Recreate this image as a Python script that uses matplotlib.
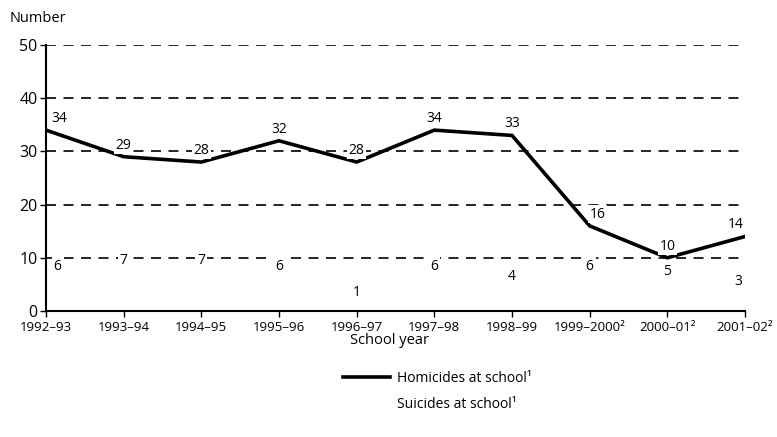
import matplotlib
matplotlib.use('Agg')
import matplotlib.pyplot as plt

plt.rcParams['font.family'] = ['Open Sans', 'DejaVu Sans']

years = ['1992\u201393', '1993\u201394', '1994\u201395', '1995\u201396', '1996\u201397',
         '1997\u201398', '1998\u201399', '1999\u20132000\u00b2', '2000\u201301\u00b2',
         '2001\u201302\u00b2']
homicides = [34, 29, 28, 32, 28, 34, 33, 16, 10, 14]
suicides = [6, 7, 7, 6, 1, 6, 4, 6, 5, 3]

fig = plt.figure(figsize=(7.77, 4.37), dpi=100)
ax = fig.add_axes([46 / 777, 1 - 311 / 437, 699 / 777, 266 / 437])

x = list(range(len(years)))

# dashed reference lines
for y in [10, 20, 30, 40, 50]:
    ax.axhline(y, color='black', lw=1.2, ls=(0, (6, 4.5)), zorder=1)

line_h, = ax.plot(x, homicides, color='black', lw=2.6, solid_joinstyle='miter',
                  zorder=3, label='Homicides at school\u00b9')
# suicides line did not survive in the source; keep it invisible
line_s, = ax.plot(x, suicides, ls='none', label='Suicides at school\u00b9')

for i, v in enumerate(homicides):
    dx = 0
    if i == 0:
        dx = 0.17
    elif i == len(homicides) - 1:
        dx = -0.12
    elif i == 7:
        dx = 0.1
    ax.annotate(str(v), (i + dx, v), xytext=(0, 3), textcoords='offset points',
                ha='center', va='bottom', fontsize=10, zorder=4,
                bbox=dict(boxstyle='square,pad=0.1', fc='white', ec='none'))

for i, v in enumerate(suicides):
    dx = 0
    if i == 0:
        dx = 0.15
    elif i == len(suicides) - 1:
        dx = -0.09
    ax.annotate(str(v), (i + dx, v), xytext=(0, 4), textcoords='offset points',
                ha='center', va='bottom', fontsize=10, zorder=4,
                bbox=dict(boxstyle='square,pad=0.15', fc='white', ec='none'))

ax.set_xlim(0, len(years) - 1)
ax.set_ylim(0, 50)
ax.set_xticks(x)
ax.set_xticklabels(years, fontsize=9.5)
ax.set_yticks([0, 10, 20, 30, 40, 50])
ax.tick_params(axis='y', labelsize=11.5, length=4, width=1, pad=2)
ax.tick_params(axis='x', length=4, width=1, direction='out', pad=3)

for s in ['top', 'right']:
    ax.spines[s].set_visible(False)
ax.spines['left'].set_linewidth(1.5)
ax.spines['bottom'].set_linewidth(1.5)

fig.text(10 / 777, 1 - 18 / 437, 'Number', fontsize=10.5, va='center', ha='left')
fig.text(350 / 777, 1 - 340 / 437, 'School year', fontsize=10.5, va='center', ha='left')

ax.legend(handles=[line_h, line_s], loc='upper left', frameon=False,
          bbox_to_anchor=(343 / 777, 1 - 371 / 437), bbox_transform=fig.transFigure,
          fontsize=10, handlelength=3.4, handletextpad=0.5, labelspacing=0.8,
          borderpad=0, borderaxespad=0)

fig.savefig('out.png', dpi=100)
plt.close(fig)
